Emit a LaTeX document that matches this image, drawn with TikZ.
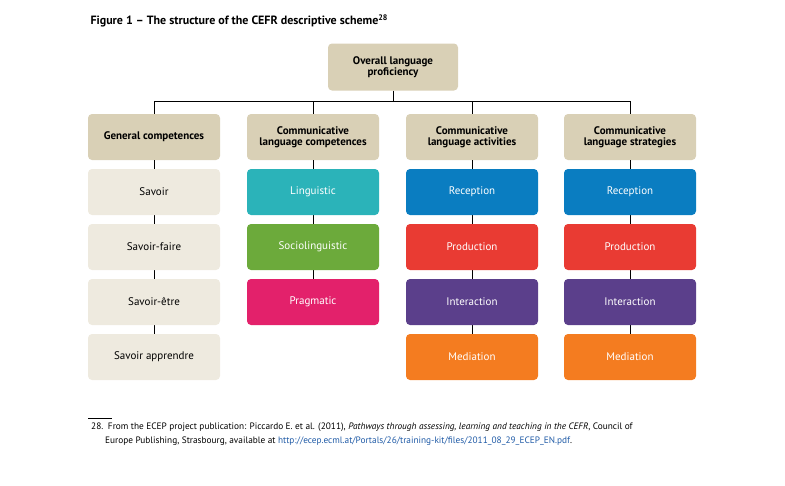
\documentclass[tikz,border=0pt]{standalone}
\usepackage{fontspec}
\setmainfont{PT Sans}
\usetikzlibrary{positioning}
\definecolor{headc}{HTML}{D9D0B6}
\definecolor{palec}{HTML}{EEEADF}
\definecolor{tealc}{HTML}{2BB3B9}
\definecolor{greenc}{HTML}{6CAA3B}
\definecolor{pinkc}{HTML}{E3216B}
\definecolor{bluec}{HTML}{0A7DC1}
\definecolor{redc}{HTML}{E93B33}
\definecolor{purplec}{HTML}{5B3F8B}
\definecolor{orangec}{HTML}{F47C20}
\definecolor{linkc}{HTML}{1F5AA6}
\tikzset{
  box/.style={rounded corners=4pt, minimum width=132pt, minimum height=46pt,
    align=center, font=\fontsize{11}{12}\selectfont, inner sep=1pt},
  head/.style={box, fill=headc, font=\fontsize{11}{12}\selectfont\bfseries},
  item/.style={box, fill=#1, text=white},
  pale/.style={box, fill=palec},
  link/.style={draw, thick}
}
\begin{document}
\begin{tikzpicture}[x=1pt,y=-1pt]
\useasboundingbox (0,0) rectangle (785,485);
\node[anchor=west, font=\fontsize{12}{14}\selectfont\bfseries] (title) at (87,21)
  {Figure 1 -- The structure of the CEFR descriptive scheme\textsuperscript{28}};
% top
\node[head, minimum width=130pt, minimum height=47pt] (top) at (393,67) {Overall language\\[-1pt]proficiency};
\coordinate (bar) at (393,101);
% columns
\foreach \n/\x in {a/154,b/313,c/472,d/630}
  \coordinate (t\n) at (\x,101);
\node[head] (a0) at (154,137) {General competences};
\node[head] (b0) at (313,137) {Communicative\\[-1pt]language competences};
\node[head] (c0) at (472,137) {Communicative\\[-1pt]language activities};
\node[head] (d0) at (630,137) {Communicative\\[-1pt]language strategies};
\draw[link] (top) -- (bar);
\draw[link] (ta) -- (td);
\foreach \n in {a,b,c,d}
  \draw[link] (t\n) -- (\n0);
% items
\begin{scope}[on background layer/.style={}]
\draw[link] (a0) -- (154,340);
\draw[link] (b0) -- (313,290);
\draw[link] (c0) -- (472,340);
\draw[link] (d0) -- (630,340);
\end{scope}
\node[pale] (a1) at (154,192) {Savoir};
\node[pale] (a2) at (154,247) {Savoir-faire};
\node[pale] (a3) at (154,302) {Savoir-être};
\node[pale] (a4) at (154,357) {Savoir apprendre};
\node[item=tealc] (b1) at (313,192) {Linguistic};
\node[item=greenc] (b2) at (313,247) {Sociolinguistic};
\node[item=pinkc] (b3) at (313,302) {Pragmatic};
\foreach \n in {c,d}{
  \node[item=bluec] (\n1) at (\n0 |- a1) {Reception};
  \node[item=redc] (\n2) at (\n0 |- a2) {Production};
  \node[item=purplec] (\n3) at (\n0 |- a3) {Interaction};
  \node[item=orangec] (\n4) at (\n0 |- a4) {Mediation};
}
% footnote
\coordinate (fn1) at (88,418);
\coordinate (fn2) at (112,418);
\draw (fn1) -- (fn2);
\node[anchor=north west, align=left, font=\fontsize{9.3}{14}\selectfont, inner sep=0pt] (note) at (91,423)
  {28.\enspace From the ECEP project publication: Piccardo E. et al. (2011), \textit{Pathways through assessing, learning and teaching in the CEFR}, Council of\\
  \hspace*{14pt}Europe Publishing, Strasbourg, available at \textcolor{linkc}{http://ecep.ecml.at/Portals/26/training-kit/files/2011\_08\_29\_ECEP\_EN.pdf}.};
\end{tikzpicture}
\end{document}
